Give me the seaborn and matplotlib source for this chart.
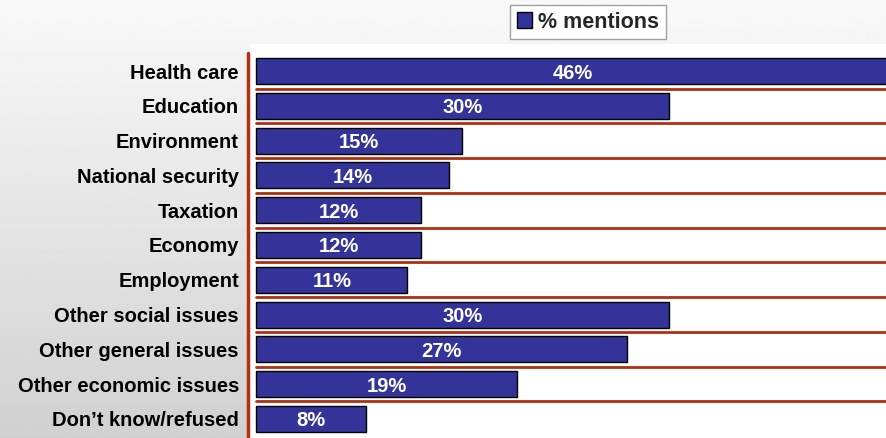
import numpy as np
import pandas as pd
import matplotlib.pyplot as plt
import seaborn as sns
from matplotlib.lines import Line2D

### Data
categories = ["Health care", "Education", "Environment", "National security",
              "Taxation", "Economy", "Employment", "Other social issues",
              "Other general issues", "Other economic issues", "Don\u2019t know/refused"]
mentions = [46, 30, 15, 14, 12, 12, 11, 30, 27, 19, 8]

df = pd.DataFrame({"issue": categories, "pct": mentions})

sns.set_style("white")
plt.rcParams["font.family"] = ["Liberation Sans", "DejaVu Sans"]

fig = plt.figure(figsize=(8.86, 4.38), dpi=100)

# grey gradient backdrop
ax_bg = fig.add_axes([0, 0, 1, 1], zorder=-2)
grad = np.linspace(0.975, 0.82, 256).reshape(-1, 1)
ax_bg.imshow(grad, aspect="auto", cmap="gray", vmin=0, vmax=1, extent=[0, 1, 0, 1])
ax_bg.axis("off")

ax = fig.add_axes([250 / 886, 0, 636 / 886, 394 / 438])
ax.set_facecolor("white")

sns.barplot(data=df, y="issue", x="pct", orient="h", color="#333399",
            edgecolor="black", linewidth=1.0, width=0.75, saturation=1,
            label="% mentions", ax=ax)
handles, labels = ax.get_legend_handles_labels()
if ax.get_legend() is not None:
    ax.get_legend().remove()

# separators between rows
for i in range(len(categories) - 1):
    ax.axhline(i + 0.5, xmin=0.0095, xmax=1, color="#b03010", linewidth=2.0, zorder=0)

for i, v in enumerate(mentions):
    ax.text(v / 2, i, f"{v}%", ha="center", va="center_baseline", color="white",
            fontsize=14.5, fontweight="bold")

ax.set_xlim(-0.45, 45.8)
ax.set_ylim(10.55, -0.78)
ax.set_xticks([])
ax.set_xlabel("")
ax.set_ylabel("")
ax.set_yticks(range(len(categories)))
ax.set_yticklabels(categories, fontsize=14.5, fontweight="bold", color="black")
ax.tick_params(axis="y", length=0, pad=8)
for s in ax.spines.values():
    s.set_visible(False)

# left red rule
fig.add_artist(Line2D([248 / 886, 248 / 886], [0, 1 - 53 / 438],
                      transform=fig.transFigure, color="#b03010", linewidth=2.5))

fig.legend(handles, labels, loc="center", bbox_to_anchor=(588 / 886, 1 - 22 / 438),
           frameon=True, fancybox=False, edgecolor="#a0a0a0", facecolor="white",
           framealpha=1, prop={"size": 15.5, "weight": "bold"},
           handlelength=0.7, handleheight=0.7, handletextpad=0.3,
           borderpad=0.3)

fig.savefig("out.png", dpi=100)
